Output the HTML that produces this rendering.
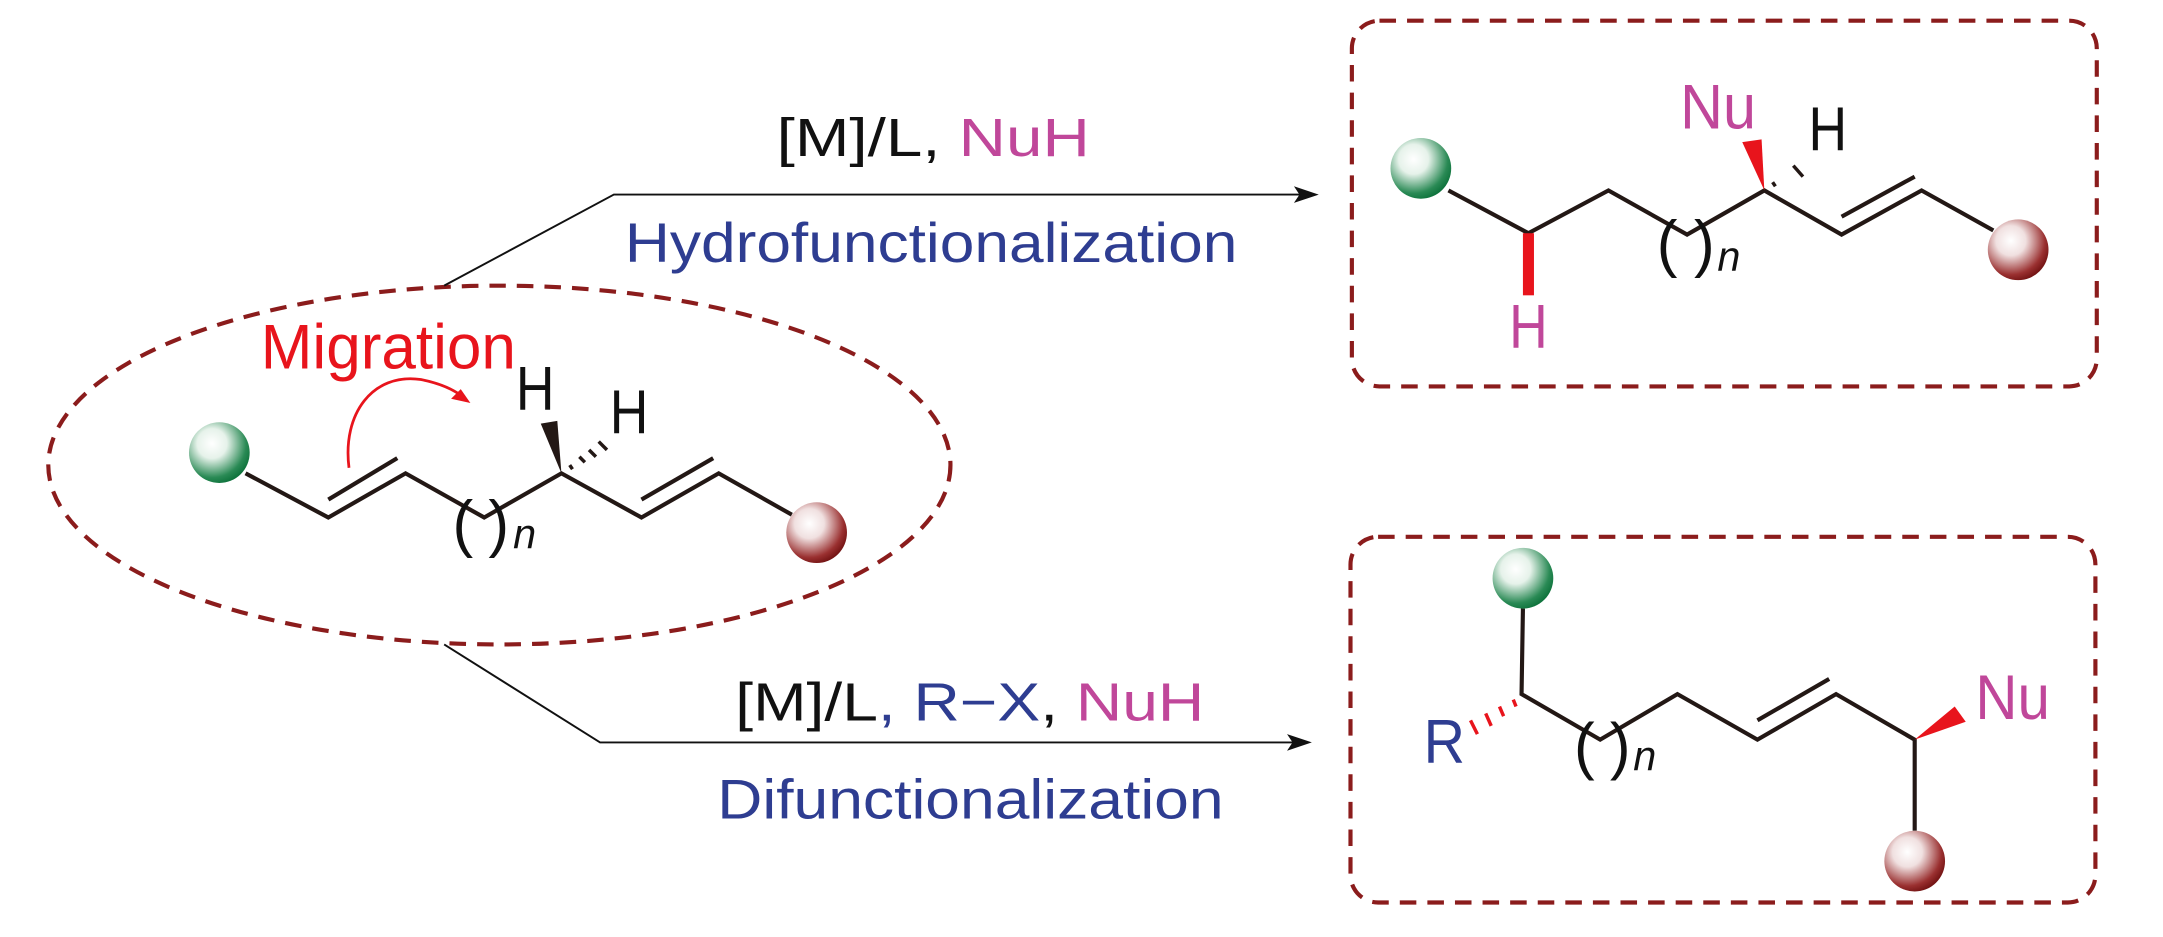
<!DOCTYPE html>
<html><head><meta charset="utf-8"><style>
html,body{margin:0;padding:0;background:#fff;}
svg{display:block;}
text{font-family:"Liberation Sans",sans-serif;}
</style></head><body>
<svg width="2163" height="937" viewBox="0 0 1568 679" preserveAspectRatio="none" xmlns="http://www.w3.org/2000/svg">
<defs>
<radialGradient id="g" cx="0.38" cy="0.35" r="0.7">
<stop offset="0" stop-color="#fff"/><stop offset="0.35" stop-color="#e6f2ea"/><stop offset="0.8" stop-color="#2a8a55"/><stop offset="1" stop-color="#0b7039"/></radialGradient>
<radialGradient id="r" cx="0.38" cy="0.35" r="0.7">
<stop offset="0" stop-color="#fff"/><stop offset="0.35" stop-color="#f0e0e0"/><stop offset="0.8" stop-color="#9a3030"/><stop offset="1" stop-color="#6e1010"/></radialGradient>
</defs>
<g fill="none" stroke="#8b1c1c" stroke-width="3" stroke-dasharray="12 8">
<ellipse cx="362" cy="337" rx="327" ry="130"/>
<rect x="980" y="15" width="540" height="265" rx="20"/>
<rect x="979" y="389" width="540" height="265" rx="20"/>
</g>
<g stroke="#111" stroke-width="1.4" fill="none">
<polyline points="322,207 445,141 945,141"/>
<polyline points="322,467 435,538 940,538"/>
</g>
<polygon points="956,141 938,135 942,141 938,147" fill="#111"/>
<polygon points="951,538 933,532 937,538 933,544" fill="#111"/>
<text x="563" y="113" font-size="39" textLength="227" lengthAdjust="spacingAndGlyphs"><tspan fill="#111">[M]/L, </tspan><tspan fill="#c0479a">NuH</tspan></text>
<text x="453" y="190" font-size="40" fill="#2e3d91" textLength="444" lengthAdjust="spacingAndGlyphs">Hydrofunctionalization</text>
<text x="533" y="522" font-size="39" textLength="340" lengthAdjust="spacingAndGlyphs"><tspan fill="#111">[M]/L</tspan><tspan fill="#2e3d91">, R−X</tspan><tspan fill="#111">, </tspan><tspan fill="#c0479a">NuH</tspan></text>
<text x="520" y="593" font-size="40" fill="#2e3d91" textLength="367" lengthAdjust="spacingAndGlyphs">Difunctionalization</text>

<g stroke="#231815" stroke-width="3" fill="none" stroke-linejoin="miter">
<polyline points="178,343 238,375 294,343 351,375 407,343 465,375 521,343 574,373"/>
<line x1="238" y1="362" x2="288" y2="332"/>
<line x1="465" y1="362" x2="517" y2="332"/>
</g>
<polygon points="407,343 392,307 404,305" fill="#231815"/>
<g stroke="#231815" stroke-width="2.5">
<line x1="413" y1="337" x2="415" y2="340"/><line x1="420" y1="331" x2="424" y2="335"/><line x1="427" y1="326" x2="432" y2="331"/><line x1="434" y1="320" x2="440" y2="326"/>
</g>
<text x="374" y="297" font-size="45" fill="#111" textLength="28" lengthAdjust="spacingAndGlyphs">H</text>
<text x="442" y="314" font-size="45" fill="#111" textLength="28" lengthAdjust="spacingAndGlyphs">H</text>
<text x="328" y="395" font-size="46" fill="#111" textLength="15" lengthAdjust="spacingAndGlyphs">(</text>
<text x="354" y="395" font-size="46" fill="#111" textLength="15" lengthAdjust="spacingAndGlyphs">)</text>
<text x="372" y="397" font-size="30" font-style="italic" fill="#111">n</text>
<circle cx="159" cy="328" r="22" fill="url(#g)"/>
<circle cx="592" cy="386" r="22" fill="url(#r)"/>
<text x="189" y="267" font-size="46" fill="#e8141c" textLength="185" lengthAdjust="spacingAndGlyphs">Migration</text>
<path d="M253,339 C248,300 270,270 305,275 C320,278 330,283 336,288" stroke="#e8141c" stroke-width="2" fill="none"/>
<polygon points="341,292 327,289 334,282" fill="#e8141c"/>

<g stroke="#231815" stroke-width="3" fill="none">
<polyline points="1050,138 1108,169 1166,138 1223,170 1279,138 1335,170 1393,138 1445,167"/>
<line x1="1335" y1="157" x2="1388" y2="128"/>
</g>
<rect x="1104" y="169" width="8" height="45" fill="#e8141c"/>
<polygon points="1279,138 1263,103 1277,101" fill="#e8141c"/>
<g stroke="#231815" stroke-width="2.5">
<line x1="1285" y1="132" x2="1287" y2="135"/><line x1="1300" y1="120" x2="1307" y2="128"/>
</g>
<text x="1218" y="93" font-size="46" fill="#c0479a" textLength="55" lengthAdjust="spacingAndGlyphs">Nu</text>
<text x="1311" y="109" font-size="45" fill="#111" textLength="28" lengthAdjust="spacingAndGlyphs">H</text>
<text x="1094" y="252" font-size="45" fill="#c0479a" textLength="28" lengthAdjust="spacingAndGlyphs">H</text>
<text x="1201" y="192" font-size="46" fill="#111" textLength="15" lengthAdjust="spacingAndGlyphs">(</text>
<text x="1228" y="192" font-size="46" fill="#111" textLength="15" lengthAdjust="spacingAndGlyphs">)</text>
<text x="1245" y="196" font-size="30" font-style="italic" fill="#111">n</text>
<circle cx="1030" cy="122" r="22" fill="url(#g)"/>
<circle cx="1463" cy="181" r="22" fill="url(#r)"/>

<g stroke="#231815" stroke-width="3" fill="none">
<polyline points="1104,441 1103,503 1160,536 1216,503 1274,536 1331,503 1388,536 1388,602"/>
<line x1="1274" y1="522" x2="1326" y2="492"/>
</g>
<g stroke="#e8141c" stroke-width="2.5">
<line x1="1097" y1="507" x2="1099" y2="512"/><line x1="1087" y1="512" x2="1090" y2="519"/><line x1="1077" y1="517" x2="1081" y2="526"/><line x1="1066" y1="522" x2="1071" y2="532"/>
</g>
<polygon points="1388,536 1417,512 1425,523" fill="#e8141c"/>
<text x="1032" y="553" font-size="45" fill="#2e3d91" textLength="30" lengthAdjust="spacingAndGlyphs">R</text>
<text x="1432" y="521" font-size="46" fill="#c0479a" textLength="54" lengthAdjust="spacingAndGlyphs">Nu</text>
<text x="1141" y="556" font-size="46" fill="#111" textLength="15" lengthAdjust="spacingAndGlyphs">(</text>
<text x="1167" y="556" font-size="46" fill="#111" textLength="15" lengthAdjust="spacingAndGlyphs">)</text>
<text x="1184" y="558" font-size="30" font-style="italic" fill="#111">n</text>
<circle cx="1104" cy="419" r="22" fill="url(#g)"/>
<circle cx="1388" cy="624" r="22" fill="url(#r)"/>
</svg>
</body></html>
